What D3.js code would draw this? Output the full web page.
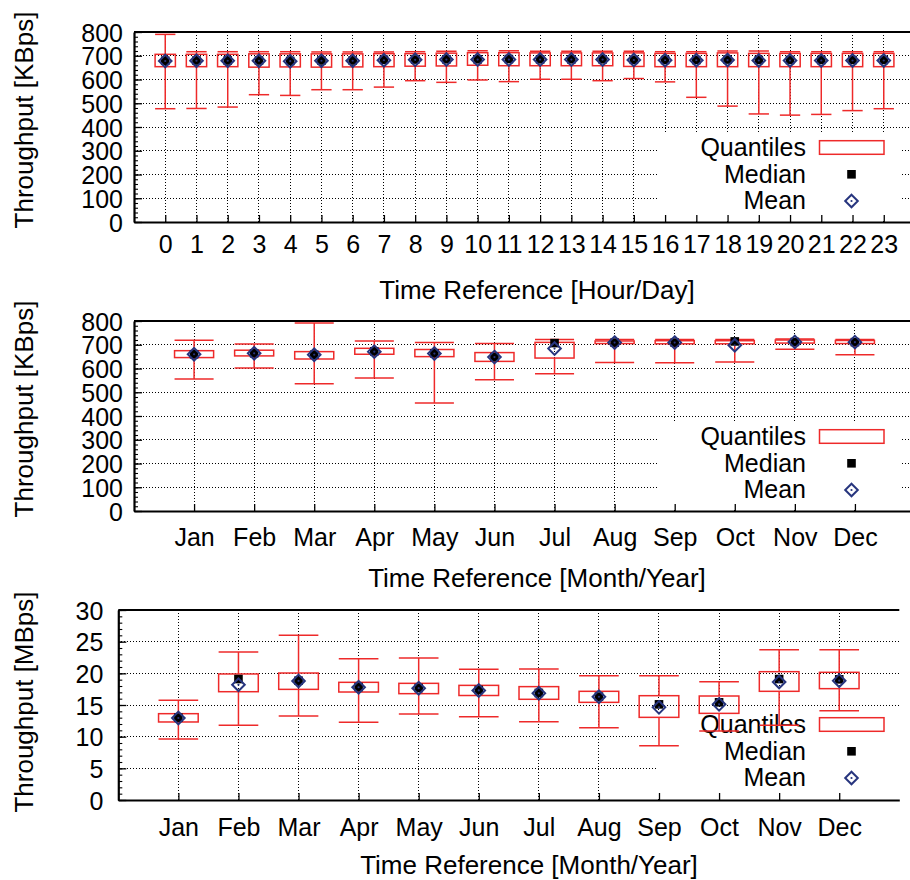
<!DOCTYPE html>
<html>
<head>
<meta charset="utf-8">
<script src="https://cdn.jsdelivr.net/npm/d3@7"></script>
<style>
  html, body { margin: 0; padding: 0; background: #fff; }
  svg { display: block; font-family: "Liberation Sans", Arial, Helvetica, sans-serif; }
</style>
</head>
<body>
<script>
// ---------- Hourly throughput (KBps) ----------
const hourLabels = ["0","1","2","3","4","5","6","7","8","9","10","11","12","13","14","15","16","17","18","19","20","21","22","23"];
const hourLow    = [477, 478, 484, 536, 533, 557, 557, 568, 595, 588, 598, 591, 601, 601, 595, 604, 590, 525, 488, 455, 450, 453, 469, 477];
const hourQ1     = [654, 654, 654, 652, 653, 652, 653, 654, 656, 657, 660, 658, 658, 658, 658, 655, 654, 654, 654, 654, 654, 654, 654, 654];
const hourMedian = [679, 680, 680, 680, 678, 680, 680, 683, 684, 685, 685, 686, 685, 685, 685, 683, 682, 682, 684, 682, 682, 682, 682, 682];
const hourMean   = [678, 679, 679, 679, 677, 679, 679, 681, 683, 684, 684, 684, 684, 684, 684, 682, 681, 681, 682, 680, 680, 680, 680, 680];
const hourQ3     = [706, 706, 706, 708, 708, 708, 708, 709, 709, 711, 713, 713, 712, 712, 712, 712, 710, 710, 712, 710, 710, 710, 710, 710];
const hourHigh   = [790, 717, 717, 717, 717, 716, 716, 716, 717, 719, 721, 721, 719, 719, 719, 719, 717, 717, 720, 720, 717, 717, 717, 717];

// ---------- Monthly throughput (KBps) ----------
const monthLabels = ["Jan","Feb","Mar","Apr","May","Jun","Jul","Aug","Sep","Oct","Nov","Dec"];
const kbLow    = [556, 602, 536, 560, 455, 553, 578, 625, 624, 627, 681, 658];
const kbQ1     = [646, 653, 640, 660, 650, 630, 644, 705, 704, 704, 707, 705];
const kbMedian = [660, 664, 658, 672, 664, 648, 707, 709, 709, 714, 712, 711];
const kbMean   = [660, 664, 658, 671, 663, 648, 684, 709, 709, 698, 712, 711];
const kbQ3     = [675, 677, 671, 685, 680, 667, 710, 716, 717, 717, 720, 718];
const kbHigh   = [719, 703, 792, 716, 710, 705, 722, 722, 722, 722, 724, 722];

// ---------- Monthly throughput (MBps) ----------
const mbLow    = [9.63, 11.8, 13.26, 12.26, 13.58, 13.16, 12.37, 11.42, 8.58, 10.89, 11.79, 14.1];
const mbQ1     = [12.32, 17.1, 17.47, 17.05, 16.79, 16.5, 15.9, 15.42, 13.05, 13.68, 17.16, 17.58];
const mbMedian = [13.0, 19.1, 18.84, 17.84, 17.68, 17.37, 16.9, 16.32, 15.1, 15.42, 19.1, 19.05];
const mbMean   = [12.95, 18.2, 18.8, 17.8, 17.65, 17.3, 16.85, 16.3, 14.63, 15.1, 18.63, 18.84];
const mbQ3     = [13.63, 19.9, 20.05, 18.58, 18.42, 18.1, 17.9, 17.16, 16.47, 16.42, 20.26, 20.16];
const mbHigh   = [15.74, 23.37, 26.0, 22.3, 22.42, 20.63, 20.68, 19.63, 19.63, 18.68, 23.74, 23.74];

const legendLabels = ["Quantiles", "Median", "Mean"];

const RED = "#ee2a2a";
const NAVY = "#27357e";

function rows(labels, low, q1, med, mean, q3, high, offset) {
  return labels.map((l, i) => ({
    label: l, pos: i + offset,
    low: low[i], q1: q1[i], median: med[i], mean: mean[i], q3: q3[i], high: high[i]
  }));
}

const svg = d3.select("body").append("svg")
  .attr("width", 910).attr("height", 880);

const diamondPath = "M0,-6.3L6.3,0L0,6.3L-6.3,0Z";

function drawPanel(cfg) {
  const g = svg.append("g").attr("transform", `translate(${cfg.left},${cfg.top})`);
  const H = 190, W = 781;
  const x = d3.scaleLinear().domain(cfg.xDomain).range([0, W]);
  const y = d3.scaleLinear().domain(cfg.yDomain).range([H, 0]);
  const data = cfg.data;
  const positions = data.map(d => d.pos);
  const majors = d3.range(cfg.yDomain[0], cfg.yDomain[1] + 1e-9, cfg.yStep);
  const minors = d3.range(cfg.yDomain[0], cfg.yDomain[1] + 1e-9, cfg.yMinor);

  // dotted grid
  const grid = g.append("g").attr("class", "grid")
    .attr("stroke", "#000").attr("stroke-width", 1).attr("stroke-dasharray", "1,2")
    .attr("shape-rendering", "crispEdges");
  grid.selectAll("line.v").data(positions).join("line").attr("class", "v")
    .attr("x1", d => x(d)).attr("x2", d => x(d)).attr("y1", H).attr("y2", 0);
  grid.selectAll("line.h").data(majors.filter(v => v > cfg.yDomain[0] && v < cfg.yDomain[1])).join("line")
    .attr("class", "h")
    .attr("x1", 0).attr("x2", W).attr("y1", d => y(d)).attr("y2", d => y(d));

  // legend (opaque key area)
  const lg = g.append("g").attr("transform", `translate(0,${cfg.legendTop})`);
  lg.append("rect").attr("x", 658 - cfg.left).attr("y", 0)
    .attr("width", 242).attr("height", H - cfg.legendTop - 1).attr("fill", "#fff");
  const textX = 806 - cfg.left;
  const sampleX = 851.5 - cfg.left;
  lg.selectAll("text").data(legendLabels).join("text")
    .attr("x", textX).attr("y", (d, i) => 23 + i * 26.7)
    .attr("text-anchor", "end").attr("font-size", 25).attr("fill", "#000")
    .text(d => d);
  lg.append("rect").attr("x", 819.5 - cfg.left).attr("y", 7.7)
    .attr("width", 64.5).attr("height", 13.6)
    .attr("fill", "none").attr("stroke", RED).attr("stroke-width", 1.5);
  lg.append("rect").attr("x", sampleX - 4.3).attr("y", 41.3 - 4.3)
    .attr("width", 8.6).attr("height", 8.6).attr("fill", "#000");
  lg.append("path").attr("d", diamondPath)
    .attr("transform", `translate(${sampleX},68)`)
    .attr("fill", "none").attr("stroke", NAVY).attr("stroke-width", 2);
  lg.append("circle").attr("cx", sampleX).attr("cy", 68).attr("r", 1.1).attr("fill", NAVY);

  // boxes with whiskers
  const bw = x(cfg.boxWidth) - x(0);
  const boxes = g.append("g").attr("stroke", RED).attr("stroke-width", 1.5).attr("fill", "none");
  const b = boxes.selectAll("g").data(data).join("g");
  b.append("line").attr("x1", d => x(d.pos)).attr("x2", d => x(d.pos))
    .attr("y1", d => y(d.low)).attr("y2", d => y(d.q1));
  b.append("line").attr("x1", d => x(d.pos)).attr("x2", d => x(d.pos))
    .attr("y1", d => y(d.q3)).attr("y2", d => y(d.high));
  b.append("line").attr("x1", d => x(d.pos) - bw / 2).attr("x2", d => x(d.pos) + bw / 2)
    .attr("y1", d => y(d.low)).attr("y2", d => y(d.low));
  b.append("line").attr("x1", d => x(d.pos) - bw / 2).attr("x2", d => x(d.pos) + bw / 2)
    .attr("y1", d => y(d.high)).attr("y2", d => y(d.high));
  b.append("rect").attr("x", d => x(d.pos) - bw / 2).attr("width", bw)
    .attr("y", d => y(d.q3)).attr("height", d => y(d.q1) - y(d.q3));

  // median squares
  g.append("g").selectAll("rect").data(data).join("rect")
    .attr("x", d => x(d.pos) - 4.3).attr("y", d => y(d.median) - 4.3)
    .attr("width", 8.6).attr("height", 8.6).attr("fill", "#000");
  // mean diamonds
  const m = g.append("g").selectAll("g").data(data).join("g")
    .attr("transform", d => `translate(${x(d.pos)},${y(d.mean)})`);
  m.append("path").attr("d", diamondPath).attr("fill", "none")
    .attr("stroke", NAVY).attr("stroke-width", 2);
  m.append("circle").attr("r", 1.1).attr("fill", NAVY);

  // axes
  const fmt = d3.format("d");
  const yAxis = d3.axisLeft(y).tickValues(majors).tickFormat(fmt)
    .tickSize(-8).tickSizeOuter(0).tickPadding(cfg.yPad);
  const ya = g.append("g").call(yAxis);
  const yMinorAxis = d3.axisLeft(y).tickValues(minors).tickFormat("").tickSize(-4).tickSizeOuter(0);
  const ym = g.append("g").call(yMinorAxis);
  ym.select(".domain").remove();

  const xAxis = d3.axisBottom(x).tickValues(positions)
    .tickFormat((d, i) => data[i].label)
    .tickSize(-7).tickSizeOuter(0).tickPadding(cfg.xPad);
  const xa = g.append("g").attr("transform", `translate(0,${H})`).call(xAxis);

  [ya, xa].forEach(a => {
    a.select(".domain").attr("stroke", "#000").attr("stroke-width", 2.2);
    a.selectAll(".tick line").attr("stroke", "#000").attr("stroke-width", 1.3);
    a.selectAll("text").attr("font-size", 25).attr("fill", "#000")
      .attr("font-family", "Liberation Sans, Arial, sans-serif");
  });
  ym.selectAll(".tick line").attr("stroke", "#000").attr("stroke-width", 1.1);
  ya.selectAll("text").attr("dy", "0.36em");

  // top border
  g.append("line").attr("x1", 0).attr("x2", W).attr("y1", 0).attr("y2", 0)
    .attr("stroke", "#000").attr("stroke-width", 2.2);

  // axis titles
  svg.append("text").attr("x", cfg.xTitleX).attr("y", cfg.top + H + cfg.xTitleDy)
    .attr("text-anchor", "middle").attr("font-size", 26).text(cfg.xTitle);
  svg.append("text")
    .attr("transform", `translate(33,${cfg.yTitleY}) rotate(-90)`)
    .attr("text-anchor", "middle").attr("font-size", 26).text(cfg.yTitle);
}

drawPanel({
  left: 134, top: 32, xDomain: [-1, 24], yDomain: [0, 800], yStep: 100, yMinor: 20,
  boxWidth: 0.65, yPad: 11, xPad: 13.3, legendTop: 101,
  data: rows(hourLabels, hourLow, hourQ1, hourMedian, hourMean, hourQ3, hourHigh, 0),
  xTitle: "Time Reference [Hour/Day]", xTitleX: 537, xTitleDy: 77,
  yTitle: "Throughput [KBps]", yTitleY: 120
});

drawPanel({
  left: 134, top: 321, xDomain: [0, 13], yDomain: [0, 800], yStep: 100, yMinor: 20,
  boxWidth: 0.65, yPad: 11, xPad: 17, legendTop: 101,
  data: rows(monthLabels, kbLow, kbQ1, kbMedian, kbMean, kbQ3, kbHigh, 1),
  xTitle: "Time Reference [Month/Year]", xTitleX: 537, xTitleDy: 76,
  yTitle: "Throughput [KBps]", yTitleY: 409
});

drawPanel({
  left: 118.3, top: 610, xDomain: [0, 13], yDomain: [0, 30], yStep: 5, yMinor: 1,
  boxWidth: 0.66, yPad: 15, xPad: 18, legendTop: 100,
  data: rows(monthLabels, mbLow, mbQ1, mbMedian, mbMean, mbQ3, mbHigh, 1),
  xTitle: "Time Reference [Month/Year]", xTitleX: 529, xTitleDy: 74.3,
  yTitle: "Throughput [MBps]", yTitleY: 702
});
</script>
</body>
</html>
